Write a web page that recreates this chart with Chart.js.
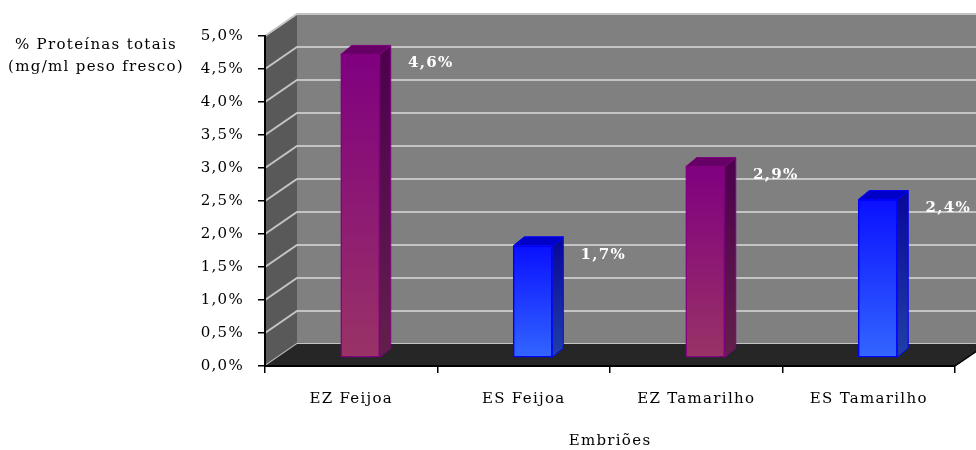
<!DOCTYPE html>
<html>
<head>
<meta charset="utf-8">
<title>Proteínas totais</title>
<script src="https://cdn.jsdelivr.net/npm/chart.js@4.4.0/dist/chart.umd.min.js"></script>
<style>
  body { margin: 0; background: #fff; }
  canvas { display: block; }
</style>
</head>
<body>
<canvas id="myChart" width="976" height="450"></canvas>
<script>
// dati
var categorie = ['EZ Feijoa', 'ES Feijoa', 'EZ Tamarilho', 'ES Tamarilho'];
var proteine = [4.6, 1.7, 2.9, 2.4];
var tipo = ['EZ', 'ES', 'EZ', 'ES'];
var titoloY = ['% Proteínas totais', '(mg/ml peso fresco)'];
var titoloX = 'Embriões';

var FONT = 'DejaVu Serif';

// colori per tipo di embrione
var colori = {
  EZ: { alto: '#800080', basso: '#993366', bordo: '#800080',
        latoAlto: '#4e004e', latoBasso: '#63204a', cima: '#660066' },
  ES: { alto: '#0a10ff', basso: '#3366ff', bordo: '#0000ff',
        latoAlto: '#0a0a9a', latoBasso: '#2040a6', cima: '#0000c8' }
};

function formatta(v) {
  return v.toFixed(1).replace('.', ',') + '%';
}

function poligono(c, punti) {
  c.beginPath();
  c.moveTo(punti[0][0], punti[0][1]);
  for (var i = 1; i < punti.length; i++) {
    c.lineTo(punti[i][0], punti[i][1]);
  }
  c.closePath();
}

// pareti e pavimento del grafico 3D
var pareti = {
  id: 'pareti',
  beforeDraw: function(chart) {
    var c = chart.ctx, a = chart.chartArea, y = chart.scales.y;
    var dx = 32, dy = -22;
    c.letterSpacing = '1.3px';
    c.save();
    c.fillStyle = '#808080';
    c.fillRect(a.left + dx, a.top + dy, a.right - a.left, a.bottom - a.top);
    c.fillStyle = '#595959';
    poligono(c, [[a.left, a.top], [a.left + dx, a.top + dy], [a.left + dx, a.bottom + dy], [a.left, a.bottom]]);
    c.fill();
    c.strokeStyle = '#c4c4c4';
    c.lineWidth = 2;
    y.ticks.forEach(function(t) {
      var py = y.getPixelForValue(t.value);
      c.beginPath();
      c.moveTo(a.left, py);
      c.lineTo(a.left + dx, py + dy);
      c.lineTo(a.right + dx, py + dy);
      c.stroke();
    });
    c.fillStyle = '#262626';
    poligono(c, [[a.left, a.bottom], [a.left + dx, a.bottom + dy], [a.right + dx, a.bottom + dy], [a.right, a.bottom]]);
    c.fill();
    c.strokeStyle = '#000';
    c.lineWidth = 1.5;
    c.beginPath();
    c.moveTo(a.right, a.bottom);
    c.lineTo(a.right + dx, a.bottom + dy);
    c.stroke();
    c.restore();
  },
  afterDraw: function(chart) {
    var c = chart.ctx, a = chart.chartArea;
    c.save();
    c.fillStyle = '#000';
    c.font = '15px "' + FONT + '"';
    c.textAlign = 'center';
    c.textBaseline = 'middle';
    c.fillText(titoloY[0], 96, a.top + 9);
    c.fillText(titoloY[1], 96, a.top + 31);
    c.restore();
  }
};

// barre in profondità: lato, cima ed etichette
var barre3d = {
  id: 'barre3d',
  beforeDatasetsDraw: function(chart) {
    chart.ctx.save();
    chart.ctx.translate(9, -8);
  },
  afterDatasetsDraw: function(chart) {
    var c = chart.ctx;
    var meta = chart.getDatasetMeta(0);
    var px = 11, py = -9;
    meta.data.forEach(function(bar, i) {
      var p = bar.getProps(['x', 'y', 'base', 'width'], true);
      var l = p.x - p.width / 2, r = p.x + p.width / 2;
      var col = colori[tipo[i]];
      var g = c.createLinearGradient(0, p.y, 0, p.base);
      g.addColorStop(0, col.latoAlto);
      g.addColorStop(1, col.latoBasso);
      c.fillStyle = g;
      c.strokeStyle = col.bordo;
      c.lineWidth = 1;
      poligono(c, [[r, p.y], [r + px, p.y + py], [r + px, p.base + py], [r, p.base]]);
      c.fill();
      c.stroke();
      c.fillStyle = col.cima;
      poligono(c, [[l, p.y], [l + px, p.y + py], [r + px, p.y + py], [r, p.y]]);
      c.fill();
      c.stroke();
      c.fillStyle = '#fff';
      c.font = 'bold 15px "' + FONT + '"';
      c.textAlign = 'center';
      c.textBaseline = 'middle';
      c.fillText(formatta(proteine[i]), r + 51, p.y + 9);
    });
    c.restore();
  }
};

function sfondoBarra(context) {
  var chart = context.chart;
  var col = colori[tipo[context.dataIndex]];
  if (!chart.chartArea) return col.basso;
  var y = chart.scales.y;
  var g = chart.ctx.createLinearGradient(0, y.getPixelForValue(context.raw), 0, y.getPixelForValue(0));
  g.addColorStop(0, col.alto);
  g.addColorStop(1, col.basso);
  return g;
}

var ctx = document.getElementById('myChart').getContext('2d');
var chart = new Chart(ctx, {
  type: 'bar',
  data: {
    labels: categorie,
    datasets: [{
      data: proteine,
      backgroundColor: sfondoBarra,
      borderColor: tipo.map(function(t) { return colori[t].bordo; }),
      borderWidth: 1.5,
      borderSkipped: false,
      barThickness: 39
    }]
  },
  options: {
    responsive: false,
    animation: false,
    layout: { padding: { top: 36, right: 21, left: 0, bottom: 0 } },
    plugins: {
      legend: { display: false },
      tooltip: { enabled: false }
    },
    scales: {
      x: {
        afterFit: function(scale) { scale.height = 84; },
        grid: { drawOnChartArea: false, color: '#000', tickLength: 7, lineWidth: 1.5 },
        border: { color: '#000', width: 2 },
        ticks: { color: '#000', padding: 17, font: { family: FONT, size: 15 } },
        title: {
          display: true, text: titoloX, color: '#000',
          font: { family: FONT, size: 15 },
          padding: { top: 0, bottom: 0 }
        }
      },
      y: {
        min: 0,
        max: 5,
        afterFit: function(scale) { scale.width = 265; },
        grid: { drawOnChartArea: false, color: '#000', tickLength: 7, lineWidth: 1.5 },
        border: { color: '#000', width: 2 },
        ticks: {
          stepSize: 0.5,
          color: '#000',
          padding: 14,
          font: { family: FONT, size: 15 },
          callback: function(v) { return formatta(v); }
        }
      }
    }
  },
  plugins: [pareti, barre3d]
});
</script>
</body>
</html>
